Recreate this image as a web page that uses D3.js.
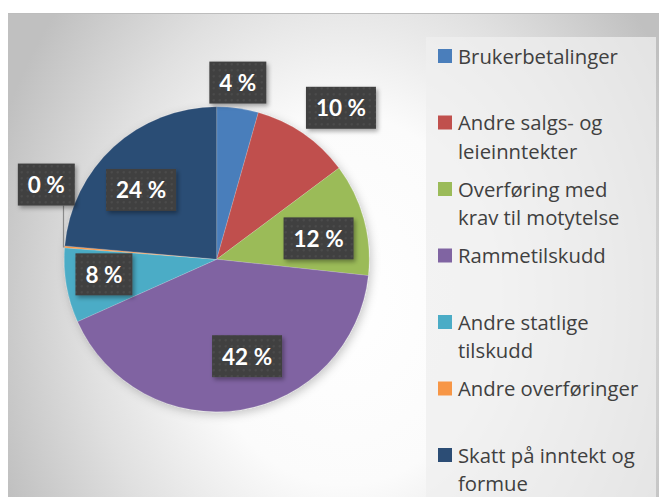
<!DOCTYPE html>
<html>
<head>
<meta charset="utf-8">
<script src="https://cdn.jsdelivr.net/npm/d3@7"></script>
<style>
  html, body { margin: 0; padding: 0; background: #ffffff; }
  svg { display: block; }
</style>
</head>
<body>
<svg id="chart" width="659" height="497"></svg>
<script>
// ---- data ----
const categories = [
  "Brukerbetalinger",
  "Andre salgs- og\nleieinntekter",
  "Overføring med\nkrav til motytelse",
  "Rammetilskudd",
  "Andre statlige\ntilskudd",
  "Andre overføringer",
  "Skatt på inntekt og\nformue"
];
const shares = [4.4, 10.4, 11.9, 41.6, 7.9, 0.2, 23.6];
const colors = ["#4a7ebb", "#c0504d", "#9bbb59", "#8064a2", "#4bacc6", "#f79646", "#2c4d75"];
// label placement: radius factor (of pie radius) and angle nudge (degrees)
const labelRadius = [1.167, 1.285, 0.682, 0.666, 0.746, 1.22, 0.673];
const labelNudge  = [-1.1, 4.8, 3.7, -8.4, 2.3, 19, -5];

const W = 659, H = 497;
const svg = d3.select("#chart");
const defs = svg.append("defs");

// background gradient
const bg = defs.append("radialGradient").attr("id", "bgGrad")
  .attr("gradientUnits", "userSpaceOnUse")
  .attr("cx", 345).attr("cy", 300).attr("r", 370)
  .attr("gradientTransform", "translate(345,300) scale(1,1.25) translate(-345,-300)");
bg.append("stop").attr("offset", 0).attr("stop-color", "#ffffff");
bg.append("stop").attr("offset", 0.4).attr("stop-color", "#fbfbfb");
bg.append("stop").attr("offset", 0.7).attr("stop-color", "#e0e0e0");
bg.append("stop").attr("offset", 1).attr("stop-color", "#c0c0c0");

// dot pattern for labels
const pat = defs.append("pattern").attr("id", "dots")
  .attr("patternUnits", "userSpaceOnUse").attr("width", 6).attr("height", 6);
pat.append("rect").attr("width", 6).attr("height", 6).attr("fill", "#404040");
pat.append("circle").attr("cx", 3).attr("cy", 3).attr("r", 0.9).attr("fill", "#525252");

const sh = defs.append("filter").attr("id", "boxShadow")
  .attr("x", "-30%").attr("y", "-30%").attr("width", "160%").attr("height", "160%");
sh.append("feDropShadow").attr("dx", 2).attr("dy", 2.5).attr("stdDeviation", 2)
  .attr("flood-color", "#000").attr("flood-opacity", 0.35);

const psh = defs.append("filter").attr("id", "pieShadow")
  .attr("x", "-20%").attr("y", "-20%").attr("width", "140%").attr("height", "140%");
psh.append("feDropShadow").attr("dx", 2).attr("dy", 3).attr("stdDeviation", 5)
  .attr("flood-color", "#000").attr("flood-opacity", 0.22);

// chart area
svg.append("rect").attr("x", 8).attr("y", 13).attr("width", W).attr("height", H)
  .attr("fill", "url(#bgGrad)");
svg.append("line").attr("x1", 8).attr("x2", W).attr("y1", 13.5).attr("y2", 13.5)
  .attr("stroke", "#bdbdbd").attr("stroke-width", 1);

// legend box
svg.append("rect").attr("x", 426).attr("y", 37).attr("width", 230).attr("height", H)
  .attr("fill", "#efefef").attr("opacity", 0.75);

// pie
const cx = 216.7, cy = 259.3, R = 152.5;
const pie = d3.pie().sort(null).value(d => d);
const arcs = pie(shares);
const arc = d3.arc().innerRadius(0).outerRadius(R);

const g = svg.append("g").attr("transform", `translate(${cx},${cy})`);
g.append("g").attr("filter", "url(#pieShadow)")
  .selectAll("path").data(arcs).join("path")
  .attr("d", arc)
  .attr("fill", (d, i) => colors[i])
  .attr("stroke", "rgba(255,255,255,0.25)")
  .attr("stroke-width", 0.6);

// labels
const fmt = v => Math.round(v) + " %";
const labelG = g.append("g");
arcs.forEach((d, i) => {
  const mid = (d.startAngle + d.endAngle) / 2;
  const a = mid + labelNudge[i] * Math.PI / 180;
  const r = labelRadius[i] * R;
  const lx = r * Math.sin(a), ly = -r * Math.cos(a);
  const grp = labelG.append("g");
  const txt = grp.append("text")
    .attr("x", lx).attr("y", ly)
    .attr("text-anchor", "middle").attr("dominant-baseline", "central")
    .attr("font-family", "Lato, 'Open Sans', sans-serif")
    .attr("font-weight", "bold").attr("font-size", 22.5)
    .attr("fill", "#ffffff")
    .text(fmt(shares[i]));
  const tw = txt.node().getComputedTextLength();
  const bw = tw + 20, bh = 42;
  if (labelRadius[i] > 1 && i === 5) {
    // leader line from slice edge to label box
    const ex = R * Math.sin(mid), ey = -R * Math.cos(mid);
    grp.insert("path", "text")
      .attr("d", `M${ex},${ey} L${ex - 1.2},${ey} L${ex - 1.2},${ly + bh / 2}`)
      .attr("fill", "none").attr("stroke", "#8a8a8a").attr("stroke-width", 1.2);
  }
  grp.insert("rect", "text")
    .attr("x", lx - bw / 2).attr("y", ly - bh / 2)
    .attr("width", bw).attr("height", bh)
    .attr("fill", "url(#dots)")
    .attr("filter", "url(#boxShadow)");
});

// legend
const legend = svg.append("g");
categories.forEach((c, i) => {
  const top = 49 + i * 66.5;
  legend.append("rect").attr("x", 438).attr("y", top)
    .attr("width", 14).attr("height", 14).attr("fill", colors[i]);
  const t = legend.append("text")
    .attr("x", 458).attr("y", top + 14.5)
    .attr("font-family", "'Open Sans', Lato, sans-serif")
    .attr("font-size", 20.3).attr("fill", "#404040");
  c.split("\n").forEach((line, j) => {
    t.append("tspan").attr("x", 458).attr("dy", j === 0 ? 0 : 28.5).text(line);
  });
});
</script>
</body>
</html>
